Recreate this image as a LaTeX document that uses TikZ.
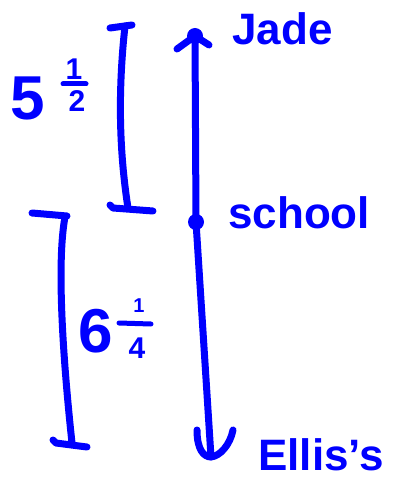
\documentclass[tikz,border=0pt]{standalone}
\usepackage{fontspec}
\setmainfont{Liberation Sans}
\definecolor{inkblue}{RGB}{0,0,255}
\begin{document}
\begin{tikzpicture}[x=1pt,y=-1pt,
  ink/.style={draw=inkblue,line width=7pt,line cap=round,line join=round},
  lbl/.style={text=inkblue,font=\bfseries\fontsize{44}{48}\selectfont,anchor=base west,inner sep=0pt},
  num/.style={text=inkblue,font=\bfseries\fontsize{62}{66}\selectfont,anchor=base,inner sep=0pt},
  fracpart/.style={text=inkblue,font=\bfseries\fontsize{30}{32}\selectfont,anchor=base,inner sep=0pt},
  inkdot/.style={circle,fill=inkblue,inner sep=0pt,minimum size=16pt}]
\useasboundingbox (0,0) rectangle (407,486);
% labels
\node[lbl] (jade) at (232,45) {Jade};
\node[lbl] (school) at (228,228) {school};
\node[lbl] (ellis) at (258,470) {Ellis's};
% main line
\node[inkdot] (jdot) at (195,36) {};
\node[inkdot] (sdot) at (196,222) {};
\coordinate (ebot) at (211,457);
\draw[ink] (jdot.center) -- (sdot.center) -- (ebot);
\draw[ink] (177,49) -- (jdot.center) -- (209,45);
\draw[ink] (197,430) .. controls (197,450) and (204,457) .. (ebot) .. controls (220,456) and (230,445) .. (233,430);
% upper bracket
\draw[ink] (110,28) -- (132,25);
\draw[ink] (125,26) .. controls (118,90) and (119,150) .. (128,208);
\draw[ink] (110,205) -- (113,208) -- (153,211);
% lower bracket
\draw[ink] (32,213) -- (67,216);
\draw[ink] (65,217) .. controls (57,260) and (62,350) .. (72,443);
\draw[ink] (53,440) -- (56,443) -- (87,447);
% 5 1/2
\node[num] (five) at (28,120) {5};
\node[fracpart] (half1) at (74,80) {1};
\draw[ink,line width=5pt] (63,84) -- (86,84);
\node[fracpart] (half2) at (77,112) {2};
% 6 1/4
\node[num] (six) at (96,352) {6};
\node[fracpart,font=\bfseries\fontsize{20}{22}\selectfont] (q1) at (139,312) {1};
\draw[ink,line width=5pt] (119,323) -- (151,324);
\node[fracpart] (q4) at (137,358) {4};
\end{tikzpicture}
\end{document}
